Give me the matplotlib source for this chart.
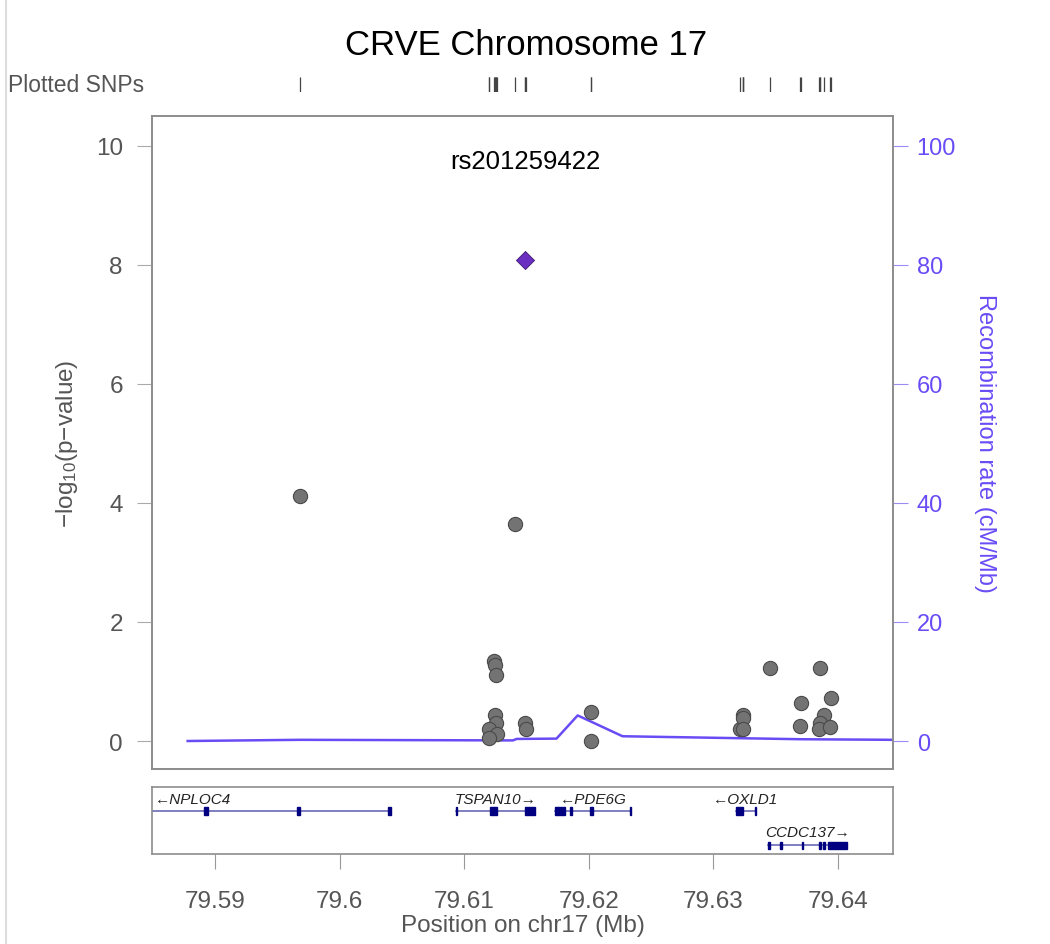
import matplotlib.pyplot as plt
from matplotlib.patches import Rectangle
import numpy as np

plt.rcParams['font.family'] = ['Liberation Sans', 'DejaVu Sans']
plt.rcParams['mathtext.default'] = 'regular'

# SNP data: position (Mb) and -log10(p)
snp_pos = [79.59682, 79.61408, 79.61239, 79.61247, 79.61255, 79.61247, 79.61253,
           79.61201, 79.61263, 79.61201, 79.61488, 79.61496, 79.62018, 79.62018,
           79.63213, 79.63237, 79.63237, 79.63237, 79.63454, 79.63703, 79.63695,
           79.63855, 79.63944, 79.63888, 79.63855, 79.63850, 79.63935]
snp_logp = [4.12, 3.65, 1.35, 1.27, 1.11, 0.43, 0.31,
            0.21, 0.12, 0.05, 0.31, 0.21, 0.49, 0.00,
            0.21, 0.43, 0.38, 0.21, 1.22, 0.64, 0.26,
            1.22, 0.72, 0.44, 0.31, 0.21, 0.23]

lead_snp = 'rs201259422'
lead_pos = 79.61488
lead_logp = 8.08

# recombination rate (cM/Mb)
rec_pos = [79.5878, 79.5968, 79.6139, 79.6142, 79.6174, 79.6191, 79.6227, 79.6370, 79.6444]
rec_rate = [0.0, 0.2, 0.1, 0.35, 0.4, 4.3, 0.8, 0.3, 0.2]

# genes
gene_names = ['NPLOC4', 'TSPAN10', 'PDE6G', 'OXLD1', 'CCDC137']
gene_start = [79.5200, 79.6093, 79.6173, 79.6318, 79.6344]
gene_end = [79.6041, 79.6157, 79.6234, 79.6334, 79.6407]
gene_strand = ['-', '+', '-', '-', '+']
gene_row = [0, 0, 0, 0, 1]
gene_exons = [
    [(79.5891, 79.5894), (79.5966, 79.5968), (79.6039, 79.6041)],
    [(79.6093, 79.6094), (79.6121, 79.6126), (79.6149, 79.6157)],
    [(79.6173, 79.6181), (79.6185, 79.6186), (79.6201, 79.6203), (79.6233, 79.6234)],
    [(79.6318, 79.6324), (79.6333, 79.6334)],
    [(79.6344, 79.6345), (79.6353, 79.6355), (79.6371, 79.6372), (79.6385, 79.6386),
     (79.6388, 79.6389), (79.6392, 79.6407)],
]

xlim = (79.58494, 79.64441)
rec_color = '#6a4cf5'
axis_gray = '#8c8c8c'
text_gray = '#555555'

fig = plt.figure(figsize=(10.5, 9.45), dpi=100)
fig.add_artist(plt.Line2D([0.006, 0.006], [0, 1], color='#dddddd', lw=1.5))

# main association panel
ax = fig.add_axes([0.1448, 0.1852, 0.7057, 0.691])
ax2 = ax.twinx()
ax2.plot(rec_pos, rec_rate, color=rec_color, lw=1.8, zorder=1)
ax2.set_ylim(-4.7, 105)
ax2.set_yticks([0, 20, 40, 60, 80, 100])
ax2.tick_params(axis='y', colors='#9a8cf0', labelcolor=rec_color, labelsize=17,
                length=11, pad=6)
ax2.set_ylabel('Recombination rate (cM/Mb)', color=rec_color, fontsize=17,
               rotation=270, labelpad=29)

ax.set_zorder(ax2.get_zorder() + 1)
ax.patch.set_visible(False)
ax.scatter(snp_pos, snp_logp, s=105, c='#737373', edgecolors='#4a4a4a', linewidths=0.8, zorder=3)
ax.scatter([lead_pos], [lead_logp], marker='D', s=85, c='#6a2fc0', edgecolors='#3d1a73',
           linewidths=0.6, zorder=4)
ax.text(lead_pos, 9.75, lead_snp, ha='center', va='center', fontsize=18.5, color='black')
ax.set_xlim(xlim)
ax.set_ylim(-0.47, 10.5)
ax.set_yticks([0, 2, 4, 6, 8, 10])
ax.set_xticks([])
ax.tick_params(axis='y', colors='#aaaaaa', labelcolor=text_gray, labelsize=17.5, length=11, pad=10)
ax.set_ylabel('$-log_{10}$(p$-$value)', color=text_gray, fontsize=17.5, labelpad=11)
for a in (ax, ax2):
    for s in a.spines.values():
        s.set_color(axis_gray)
        s.set_linewidth(1.2)

# plotted SNPs rug
rax = fig.add_axes([0.1448, 0.9016, 0.7057, 0.0159])
rax.vlines(snp_pos + [lead_pos], 0, 1, color='#444444', lw=0.9)
rax.set_xlim(xlim)
rax.set_ylim(0, 1)
rax.axis('off')
fig.text(0.008, 0.909, 'Plotted SNPs', fontsize=16.5, color=text_gray, va='center', ha='left')

fig.text(0.501, 0.952, 'CRVE Chromosome 17', fontsize=25, ha='center', va='center', color='black')

# gene panel
gax = fig.add_axes([0.1448, 0.0952, 0.7057, 0.0709])
gax.set_xlim(xlim)
gax.set_ylim(0, 1)
row_y = [0.64, 0.13]
label_y = [0.82, 0.33]
for name, st, en, strand, row, exons in zip(gene_names, gene_start, gene_end,
                                             gene_strand, gene_row, gene_exons):
    y = row_y[row]
    gax.plot([st, en], [y, y], color='#5c5cb0', lw=1.1, zorder=1)
    for e0, e1 in exons:
        w = max(e1 - e0, 0.00012)
        gax.add_patch(Rectangle((e0, y - 0.055), w, 0.11, color='#000080', zorder=2))
    lab = ('\u2190' + name) if strand == '-' else (name + '\u2192')
    if st < xlim[0]:
        gax.text(xlim[0] + 0.0002, label_y[row], lab, ha='left', va='center',
                 fontsize=11, style='italic', color='#222222')
    else:
        gax.text((st + en) / 2, label_y[row], lab, ha='center', va='center',
                 fontsize=11, style='italic', color='#222222')
gax.set_yticks([])
gax.set_xticks([79.59, 79.60, 79.61, 79.62, 79.63, 79.64])
gax.set_xticklabels(['79.59', '79.6', '79.61', '79.62', '79.63', '79.64'])
gax.tick_params(axis='x', colors='#999999', labelcolor=text_gray, labelsize=17.5, length=11, pad=15)
gax.set_xlabel('Position on chr17 (Mb)', color=text_gray, fontsize=17.5, labelpad=1)
for s in gax.spines.values():
    s.set_color(axis_gray)
    s.set_linewidth(1.2)

fig.savefig('out.png', dpi=100)
